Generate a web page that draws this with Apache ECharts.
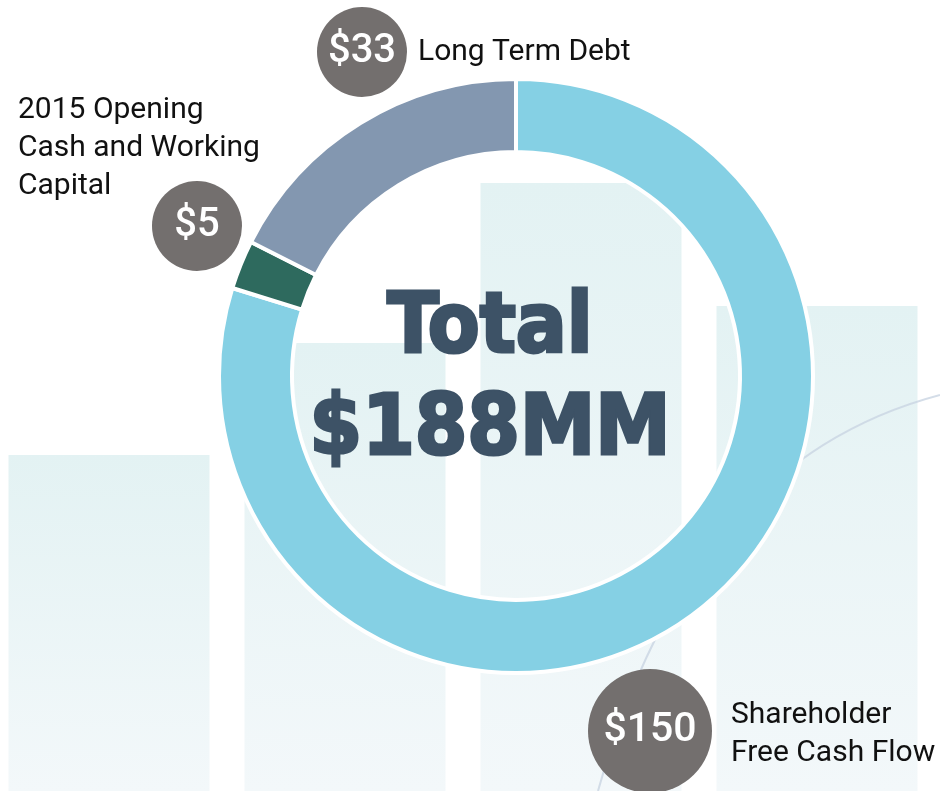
<!DOCTYPE html>
<html>
<head>
<meta charset="utf-8">
<script src="https://cdn.jsdelivr.net/npm/echarts@6/dist/echarts.min.js"></script>
<style>
  html, body { margin: 0; padding: 0; background: #fff; }
  #chart { width: 940px; height: 791px; }
</style>
</head>
<body>
<div id="chart"></div>
<script>
  // donut data (clockwise from 12 o'clock)
  const names = ['Shareholder\nFree Cash Flow', '2015 Opening\nCash and Working\nCapital', 'Long Term Debt']
  const values = [150, 5, 33]
  const colors = ['#85D0E4', '#2E6A5E', '#8397B0']
  const total = 188

  // faint decorative bars behind the donut
  const backdropCats = ['a', 'b', 'c', 'd']
  const backdropHeights = [336, 448, 608, 485]

  // where the value bubbles and names sit
  const bubbleX = [650, 197, 362]
  const bubbleY = [731, 226, 52]
  const bubbleStyle = ['lg', 'sm', 'sm']
  const nameX = [731, 18, 418]
  const nameY = [734, 148, 52]

  const chart = echarts.init(document.getElementById('chart'))
  chart.setOption({
    backgroundColor: '#fff',
    animation: false,
    grid: { left: 109, right: 123, top: 0, bottom: 0 },
    xAxis: { type: 'category', data: backdropCats, boundaryGap: false, show: false },
    yAxis: { type: 'value', min: 0, max: 791, show: false },
    graphic: [
      {
        type: 'bezierCurve',
        silent: true,
        z: 3,
        shape: { x1: 598, y1: 791, cpx1: 660, cpy1: 570, cpx2: 770, cpy2: 440, x2: 940, y2: 395 },
        style: { stroke: '#c9d5e2', lineWidth: 2, fill: null, opacity: 0.8 },
      },
      {
        type: 'text',
        z: 10,
        x: 490,
        y: 381,
        style: {
          text: 'Total\n$' + total + 'MM',
          fill: '#3D5266',
          stroke: '#3D5266',
          lineWidth: 3,
          font: 'bold 84px "DejaVu Sans Condensed", "DejaVu Sans", sans-serif',
          lineHeight: 102,
          align: 'center',
          verticalAlign: 'middle',
        },
      },
    ].concat(names.map((n, i) => ({
      type: 'text',
      z: 10,
      x: nameX[i],
      y: nameY[i],
      style: {
        text: n,
        fill: '#111',
        font: '30px Roboto, sans-serif',
        lineHeight: 38,
        align: 'left',
        verticalAlign: 'middle',
      },
    }))),
    series: [
      {
        type: 'bar',
        silent: true,
        data: backdropHeights,
        barWidth: 201,
        itemStyle: {
          color: {
            type: 'linear',
            x: 0, y: 0, x2: 0, y2: 1,
            colorStops: [
              { offset: 0, color: '#e3f2f3' },
              { offset: 1, color: '#f3f8fa' },
            ],
          },
        },
      },
      {
        type: 'pie',
        center: [516, 376],
        radius: [224, 297],
        startAngle: 90,
        clockwise: true,
        silent: true,
        z: 5,
        itemStyle: { borderColor: '#fff', borderWidth: 4 },
        labelLine: { show: false },
        label: {
          show: true,
          formatter: (p) => '{' + bubbleStyle[p.dataIndex] + '|$' + p.value + '}',
          rich: {
            sm: {
              width: 90, height: 90, lineHeight: 90, borderRadius: 45,
              backgroundColor: '#736F6E', color: '#fff', align: 'center',
              fontSize: 40, fontWeight: 500, fontFamily: 'Roboto, sans-serif',
            },
            lg: {
              width: 124, height: 124, lineHeight: 124, borderRadius: 62,
              backgroundColor: '#736F6E', color: '#fff', align: 'center',
              fontSize: 41, fontWeight: 500, fontFamily: 'Roboto, sans-serif',
            },
          },
        },
        labelLayout: (p) => ({
          x: bubbleX[p.dataIndex],
          y: bubbleY[p.dataIndex],
          align: 'center',
          verticalAlign: 'middle',
        }),
        data: values.map((v, i) => ({ name: names[i], value: v, itemStyle: { color: colors[i] } })),
      },
    ],
  })
</script>
</body>
</html>
